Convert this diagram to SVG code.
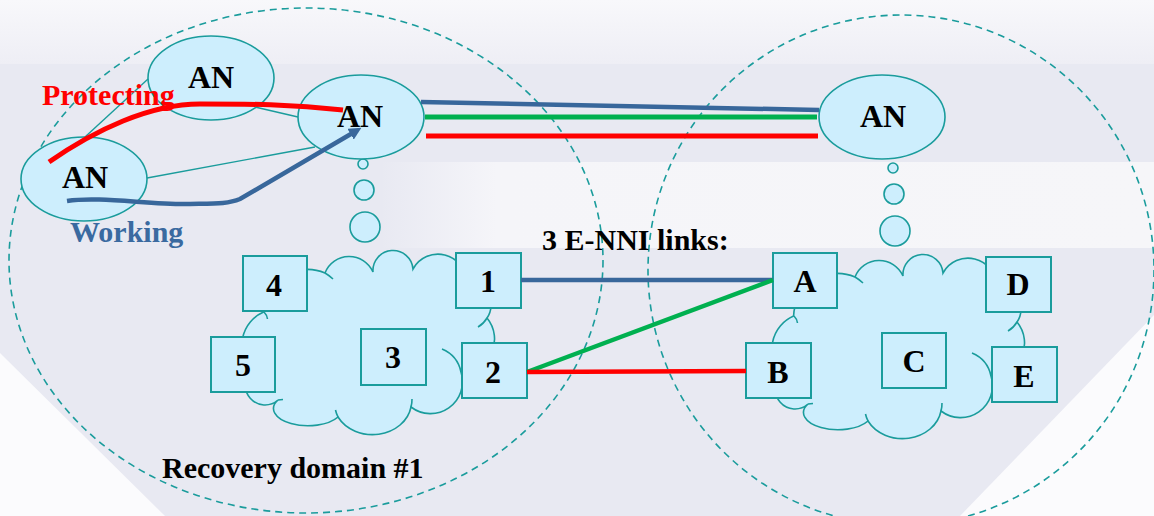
<svg xmlns="http://www.w3.org/2000/svg" xmlns:xlink="http://www.w3.org/1999/xlink" width="1154" height="516" viewBox="0 0 1154 516">
<style>
.dom{fill:none;stroke:#1a9c9c;stroke-width:1.6;stroke-dasharray:7 5}
.an{fill:#cdeefd;stroke:#1a9c9c;stroke-width:1.6}
.box{fill:#cdeefd;stroke:#1a9c9c;stroke-width:2}
.cloud{fill:#cdeefd;stroke:#1a9c9c;stroke-width:1.6}
.inner{fill:none;stroke:#1a9c9c;stroke-width:1.6}
.thin{fill:none;stroke:#1a9c9c;stroke-width:1.4}
.t{font-family:"Liberation Serif","Times New Roman",serif;font-weight:bold;fill:#000}
.an-t{font-size:32px;text-anchor:middle}
.bx-t{font-size:32px;text-anchor:middle}
.lbl{font-size:30px}
.blue{stroke:#38679b;fill:none;stroke-width:4.5;stroke-linecap:butt}
.green{stroke:#00b050;fill:none;stroke-width:5}
.red{stroke:#ff0000;fill:none;stroke-width:5}
</style>
<defs>
<linearGradient id="topg" x1="0" y1="0" x2="0" y2="1">
<stop offset="0" stop-color="#f8f8fb"/>
<stop offset="1" stop-color="#eeeef5"/>
</linearGradient>
<linearGradient id="bandg" x1="0" y1="0" x2="1" y2="0">
<stop offset="0" stop-color="#f5f5f9" stop-opacity="0"/>
<stop offset="0.15" stop-color="#f5f5f9" stop-opacity="1"/>
<stop offset="1" stop-color="#f6f6f9" stop-opacity="1"/>
</linearGradient>
<path id="cloud" d="M 263.6 312 A 44 44 0 0 1 325 273 A 26 26 0 0 1 373 272 A 20 20 0 0 1 413 269 A 28.5 28.5 0 0 1 466.5 282 A 23 23 0 0 1 487 318 A 33 33 0 0 1 461 372 A 32 32 0 0 1 411 407 A 39 33 0 0 1 338 417 A 32 16 0 0 1 278 400 A 19.5 19.5 0 1 1 252.5 370.5 A 36 36 0 0 1 263.6 312 Z"/>
<path id="cloudin" d="M 325 273 A 44 44 0 0 1 333 279 M 264 312 Q 267 315 267.5 319 M 487 318 A 24 24 0 0 1 478 327 M 442 349 A 32 32 0 0 1 461 372 M 411 407 A 39 33 0 0 0 412 399 M 338 417 A 39 33 0 0 1 335.5 410 M 278 400 L 283 399.5"/>
<marker id="arr" viewBox="0 0 10 10" refX="5" refY="5" markerWidth="2.8" markerHeight="2.8" orient="auto">
<path d="M0,0 L10,5 L0,10 z" fill="#38679b"/>
</marker>
</defs>

<g id="background">
<rect width="1154" height="516" fill="#e8e9f2"/>
<rect x="0" y="0" width="1154" height="64" fill="url(#topg)"/>
<rect x="380" y="162" width="774" height="86" fill="url(#bandg)"/>
<polygon points="0,353 165,516 0,516" fill="#fbfbfd"/>
<polygon points="1154,315 960,516 1154,516" fill="#fbfbfd"/>
</g>

<g id="domains">
<ellipse id="domain-1" class="dom" cx="306" cy="260.5" rx="297" ry="252.5"/>
<ellipse id="domain-2" class="dom" cx="901" cy="270" rx="253" ry="255"/>
</g>

<g id="cloud-left">
<use xlink:href="#cloud" href="#cloud" class="cloud"/>
<use xlink:href="#cloudin" href="#cloudin" class="inner"/>
</g>
<g id="cloud-right" transform="translate(530,4)">
<use xlink:href="#cloud" href="#cloud" class="cloud"/>
<use xlink:href="#cloudin" href="#cloudin" class="inner"/>
</g>

<g id="bubbles-left">
<circle class="an" cx="363" cy="164" r="5"/>
<circle class="an" cx="364" cy="190" r="10"/>
<circle class="an" cx="365" cy="227" r="15"/>
</g>
<g id="bubbles-right">
<circle class="an" cx="893" cy="168" r="5"/>
<circle class="an" cx="894" cy="194" r="10"/>
<circle class="an" cx="895" cy="231" r="15"/>
</g>

<g id="an-top">
<ellipse class="an" cx="211" cy="78" rx="63" ry="42"/>
<text class="t an-t" x="211" y="88">AN</text>
</g>
<g id="an-left">
<ellipse class="an" cx="84" cy="179" rx="63" ry="42"/>
<text class="t an-t" x="85" y="188">AN</text>
</g>
<g id="an-mid">
<ellipse class="an" cx="361" cy="117" rx="63" ry="42"/>
<text class="t an-t" x="360" y="127">AN</text>
</g>
<g id="an-right">
<ellipse class="an" cx="882" cy="117" rx="63" ry="42"/>
<text class="t an-t" x="883" y="127">AN</text>
</g>

<g id="box-4"><rect class="box" x="243" y="256" width="64" height="55"/><text class="t bx-t" x="274" y="296">4</text></g>
<g id="box-1"><rect class="box" x="456" y="253" width="65" height="55"/><text class="t bx-t" x="488" y="292">1</text></g>
<g id="box-5"><rect class="box" x="211" y="337" width="64" height="55"/><text class="t bx-t" x="243" y="376">5</text></g>
<g id="box-3"><rect class="box" x="361" y="329" width="65" height="56"/><text class="t bx-t" x="393" y="368">3</text></g>
<g id="box-2"><rect class="box" x="462" y="343" width="65" height="55"/><text class="t bx-t" x="493" y="383">2</text></g>

<g id="box-A"><rect class="box" x="773" y="253" width="64" height="55"/><text class="t bx-t" x="805" y="292">A</text></g>
<g id="box-D"><rect class="box" x="986" y="257" width="65" height="55"/><text class="t bx-t" x="1018" y="295">D</text></g>
<g id="box-B"><rect class="box" x="746" y="343" width="65" height="55"/><text class="t bx-t" x="778" y="383">B</text></g>
<g id="box-C"><rect class="box" x="882" y="333" width="64" height="55"/><text class="t bx-t" x="914" y="372">C</text></g>
<g id="box-E"><rect class="box" x="992" y="347" width="65" height="55"/><text class="t bx-t" x="1024" y="387">E</text></g>

<g id="connectors">
<line class="thin" x1="85" y1="137" x2="148" y2="79"/>
<line class="thin" x1="255" y1="107" x2="298" y2="117"/>
<line class="thin" x1="147" y1="178" x2="315" y2="147"/>
<path class="red" d="M 49 162 C 95 130, 150 104, 200 104 C 250 104, 290 104, 343 110"/>
<path class="blue" d="M 67 201 C 100 196, 150 205, 190 204 C 215 203.5, 228 204, 240 199 L 356 131" marker-end="url(#arr)"/>
<line class="blue" x1="421" y1="102" x2="819" y2="110"/>
<line class="green" x1="425" y1="117" x2="817" y2="117"/>
<line class="red" x1="426" y1="136" x2="818" y2="136"/>
<line class="blue" x1="521" y1="280" x2="773" y2="280"/>
<line class="green" x1="527" y1="372" x2="773" y2="280" style="stroke-width:4.5"/>
<line class="red" x1="527" y1="372" x2="746" y2="371" style="stroke-width:4.5"/>
</g>

<g id="labels">
<text class="t lbl" x="42" y="105" style="fill:#ff0000">Protecting</text>
<text class="t lbl" x="70" y="242" style="fill:#3a6aa0">Working</text>
<text class="t lbl" x="542" y="250">3 E-NNI links:</text>
<text class="t lbl" x="162" y="478">Recovery domain #1</text>
</g>
</svg>
